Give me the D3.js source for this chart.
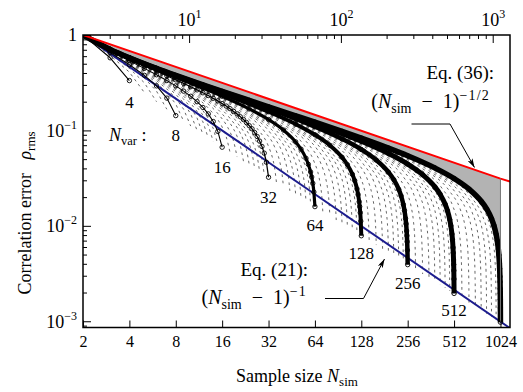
<!DOCTYPE html>
<html><head><meta charset="utf-8">
<script src="https://cdn.jsdelivr.net/npm/d3@7"></script>
<style>
body{margin:0;background:#fff}
svg{display:block}
text{font-family:"Liberation Serif","Tinos","Times New Roman","Nimbus Roman","DejaVu Serif",serif;fill:#000}
</style>
</head><body>
<svg id="c" width="523" height="392"></svg>
<script>
// ---------------- data ----------------
const bottomTicks = [2,4,8,16,32,64,128,256,512,1024];
const topMajorTicks = [10,100,1000];
const topMinorTicks = [3,4,5,6,7,8,9,20,30,40,50,60,70,80,90,200,300,400,500,600,700,800,900];
const leftMajorTicks = [1,0.1,0.01,0.001];
const leftMinorTicks = [0.9,0.8,0.7,0.6,0.5,0.4,0.3,0.2,0.09,0.08,0.07,0.06,0.05,0.04,0.03,0.02,0.009,0.008,0.007,0.006,0.005,0.004,0.003,0.002,0.0009];
const labeledNvar = [4,8,16,32,64,128,256,512];

const redLine  = [[2,1],[1024,0.03127],[1181,0.0291]];
const blueLine = [[2,1],[1181,0.000847]];

const curve4 = [[2,1],[3,0.577],[4,0.333]];
const curve8 = [[2,1],[3,0.655],[4,0.488],[5,0.378],[6,0.293],[7,0.218],[8,0.143]];
const curve16 = [[2,1],[3,0.683],[4,0.537],[5,0.447],[6,0.383],[7,0.333],[8,0.293],[9,0.258],[10,0.228],[11,0.2],[12,0.174],[13,0.149],[14,0.124],[15,0.0976],[16,0.0667]];
const curve32 = [[2,1],[3,0.696],[4,0.558],[5,0.475],[6,0.417],[7,0.374],[8,0.339],[9,0.311],[10,0.287],[11,0.266],[12,0.248],[13,0.232],[14,0.217],[15,0.204],[16,0.191],[17,0.180],[18,0.169],[19,0.158],[20,0.149],[21,0.139],[22,0.130],[23,0.121],[24,0.112],[25,0.104],[26,0.0950],[27,0.0863],[28,0.0773],[29,0.0679],[30,0.0578],[31,0.0464],[32,0.0323]];
const curve64 = [[2,1],[3,0.702],[4,0.568],[6,0.433],[8,0.360],[12,0.277],[16,0.228],[24,0.168],[32,0.130],[40,0.1009],[48,0.0758],[52,0.0636],[56,0.0510],[58,0.0441],[60,0.0367],[61,0.0325],[62,0.0279],[63,0.0226],[64,0.0159]];
const curve128 = [[2,1],[3,0.704],[4,0.573],[6,0.440],[8,0.369],[12,0.289],[16,0.2436],[24,0.1896],[32,0.157],[48,0.1165],[64,0.0901],[80,0.0699],[96,0.0523],[104,0.0437],[112,0.0347],[116,0.0298],[120,0.0244],[122,0.0213],[124,0.0179],[125,0.0159],[126,0.01375],[127,0.01118],[128,0.00787]];
const curve256 = [[2,1],[3,0.706],[4,0.575],[6,0.4437],[8,0.3735],[12,0.2955],[16,0.251],[24,0.1993],[32,0.1687],[48,0.1321],[64,0.1096],[96,0.0815],[128,0.0631],[160,0.0489],[192,0.03653],[208,0.03047],[224,0.02409],[232,0.0206],[240,0.0167],[244,0.01448],[248,0.01195],[250,0.0105],[252,0.00884],[253,0.00789],[254,0.00682],[255,0.00556],[256,0.00392]];
const curve512 = [[2,1],[3,0.7064],[4,0.5762],[6,0.4455],[8,0.3757],[12,0.2985],[16,0.2546],[24,0.204],[32,0.1743],[48,0.1391],[64,0.1181],[96,0.0927],[128,0.0770],[192,0.05735],[256,0.0444],[320,0.0344],[384,0.02567],[416,0.02139],[448,0.01687],[464,0.01439],[480,0.01161],[488,0.01002],[496,0.0082],[500,0.00714],[504,0.00592],[506,0.00521],[508,0.00439],[509,0.00393],[510,0.0034],[511,0.00277],[512,0.001957]];
const curve1024 = [[2,1],[3,0.7068],[4,0.5768],[6,0.4463],[8,0.3769],[12,0.300],[16,0.2564],[24,0.2063],[32,0.1770],[48,0.1425],[64,0.1221],[96,0.0978],[128,0.0831],[192,0.0653],[256,0.0543],[384,0.04045],[512,0.03133],[640,0.02427],[768,0.0181],[832,0.01507],[896,0.01187],[928,0.01011],[960,0.00814],[976,0.00701],[992,0.00571],[1000,0.00495],[1008,0.00406],[1012,0.00355],[1016,0.00294],[1018,0.00259],[1020,0.00219],[1021,0.00196],[1022,0.00169],[1023,0.00138],[1024,0.000978]];

// dashed curves for intermediate N_var
const dashedSmall = [
 [[2,1],[3,0.612],[4,0.408],[5,0.25]],
 [[2,1],[3,0.632],[4,0.447],[5,0.316],[6,0.2]],
 [[2,1],[3,0.645],[4,0.471],[5,0.354],[6,0.258],[7,0.1667]],
 [[2,1],[3,0.661],[4,0.5],[5,0.395],[6,0.316],[7,0.25],[8,0.189],[9,0.125]],
 [[2,1],[3,0.667],[4,0.509],[5,0.408],[6,0.333],[7,0.272],[8,0.218],[9,0.1667],[10,0.111]],
 [[2,1],[3,0.671],[4,0.516],[5,0.418],[6,0.346],[7,0.289],[8,0.239],[9,0.194],[10,0.149],[11,0.1]],
 [[2,1],[3,0.674],[4,0.522],[5,0.426],[6,0.357],[7,0.302],[8,0.255],[9,0.213],[10,0.174],[11,0.135],[12,0.0909]],
 [[2,1],[3,0.677],[4,0.527],[5,0.433],[6,0.365],[7,0.312],[8,0.267],[9,0.228],[10,0.192],[11,0.158],[12,0.123],[13,0.0833]],
 [[2,1],[3,0.679],[4,0.531],[5,0.439],[6,0.372],[7,0.320],[8,0.277],[9,0.240],[10,0.207],[11,0.175],[12,0.145],[13,0.113],[14,0.0769]],
 [[2,1],[3,0.681],[4,0.535],[5,0.443],[6,0.378],[7,0.327],[8,0.286],[9,0.25],[10,0.218],[11,0.189],[12,0.161],[13,0.134],[14,0.105],[15,0.0714]]
];
const dashed16to64 = [
 [[2,1],[3,0.686],[5,0.454],[9,0.271],[13,0.1715],[15,0.1296],[16,0.1085],[17,0.0857],[18,0.0588]],
 [[2,1],[3,0.688],[5,0.459],[10,0.2536],[15,0.150],[17,0.1147],[18,0.0964],[19,0.0765],[20,0.0526]],
 [[2,1],[3,0.690],[6,0.402],[11,0.239],[16,0.149],[19,0.1029],[20,0.0867],[21,0.069],[22,0.0476]],
 [[2,1],[3,0.692],[6,0.4065],[12,0.2267],[18,0.1338],[21,0.0933],[22,0.0788],[23,0.0629],[24,0.0435]],
 [[2,1],[3,0.693],[7,0.365],[13,0.216],[20,0.1214],[23,0.0853],[24,0.0722],[25,0.0577],[26,0.04]],
 [[2,1],[3,0.694],[7,0.3685],[14,0.2067],[21,0.1217],[25,0.0786],[26,0.0667],[27,0.0534],[28,0.037]],
 [[2,1],[3,0.695],[8,0.3366],[15,0.1985],[23,0.112],[26,0.0830],[28,0.0619],[29,0.0496],[30,0.0345]],
 [[2,1],[3,0.697],[9,0.316],[18,0.1787],[27,0.1048],[32,0.0679],[34,0.051],[35,0.041],[36,0.0286]],
 [[2,1],[3,0.698],[10,0.2972],[20,0.1683],[30,0.0986],[35,0.0673],[38,0.0456],[39,0.0367],[40,0.0256]],
 [[2,1],[3,0.699],[11,0.2812],[22,0.1596],[33,0.0934],[39,0.0606],[41,0.0482],[42,0.0413],[43,0.0333],[44,0.0233]],
 [[2,1],[3,0.6996],[12,0.2675],[24,0.1521],[36,0.0889],[42,0.0603],[45,0.044],[46,0.0377],[47,0.0304],[48,0.0213]],
 [[2,1],[3,0.700],[13,0.2557],[26,0.1455],[39,0.085],[46,0.0552],[49,0.0404],[50,0.0346],[51,0.028],[52,0.0196]],
 [[2,1],[3,0.7007],[14,0.2452],[28,0.1397],[42,0.0816],[49,0.055],[52,0.0422],[54,0.0321],[55,0.0259],[56,0.0182]],
 [[2,1],[3,0.701],[15,0.236],[30,0.1346],[45,0.0785],[52,0.0547],[56,0.0393],[58,0.0299],[59,0.0242],[60,0.01695]]
];
const dashed64to256 = [
 [[2,1],[3,0.702],[18,0.2135],[36,0.122],[54,0.0711],[63,0.0477],[68,0.0324],[70,0.0247],[71,0.0201],[72,0.01408]],
 [[2,1],[3,0.7026],[20,0.2016],[40,0.1154],[60,0.0671],[70,0.0449],[75,0.032],[77,0.0258],[78,0.0222],[79,0.018],[80,0.01266]],
 [[2,1],[3,0.703],[22,0.1915],[44,0.1097],[66,0.0638],[77,0.0426],[83,0.029],[85,0.0234],[86,0.0201],[87,0.01635],[88,0.0115]],
 [[2,1],[3,0.7034],[24,0.1828],[48,0.1048],[72,0.0609],[84,0.0406],[90,0.0288],[93,0.0214],[94,0.0184],[95,0.01497],[96,0.01053]],
 [[2,1],[3,0.7037],[26,0.1752],[52,0.1004],[78,0.0583],[91,0.0389],[98,0.0265],[101,0.0197],[102,0.017],[103,0.0138],[104,0.0097]],
 [[2,1],[3,0.704],[28,0.1684],[56,0.0966],[84,0.0561],[98,0.0373],[105,0.0263],[108,0.0205],[110,0.01575],[111,0.0128],[112,0.009]],
 [[2,1],[3,0.7041],[30,0.1624],[60,0.0932],[90,0.0541],[105,0.036],[113,0.0245],[116,0.0191],[118,0.01468],[119,0.01193],[120,0.0084]],
 [[2,1],[4,0.573],[36,0.1476],[72,0.0848],[108,0.0492],[126,0.0326],[135,0.0228],[140,0.01586],[142,0.0122],[143,0.00992],[144,0.00699]],
 [[2,1],[4,0.5737],[40,0.1397],[80,0.0803],[120,0.0466],[140,0.0308],[150,0.02155],[155,0.01565],[158,0.01096],[159,0.00892],[160,0.00629]],
 [[2,1],[4,0.574],[44,0.1329],[88,0.0765],[132,0.0443],[154,0.0293],[165,0.02045],[170,0.01538],[174,0.00995],[175,0.0081],[176,0.00571]],
 [[2,1],[4,0.5743],[48,0.1271],[96,0.0731],[144,0.04236],[168,0.028],[180,0.0195],[186,0.01407],[190,0.00912],[191,0.00742],[192,0.00524]],
 [[2,1],[4,0.5746],[52,0.122],[104,0.0702],[156,0.0406],[182,0.02685],[195,0.01867],[201,0.0139],[206,0.00841],[207,0.00685],[208,0.00483]],
 [[2,1],[4,0.5748],[56,0.1174],[112,0.0676],[168,0.0391],[196,0.0258],[210,0.01794],[217,0.01289],[222,0.0078],[223,0.00636],[224,0.00448]],
 [[2,1],[4,0.575],[60,0.1133],[120,0.0652],[180,0.03776],[210,0.0249],[225,0.01729],[232,0.01277],[238,0.00728],[239,0.00593],[240,0.00418]]
];
const dashed256to1024 = [
 [[2,1],[4,0.5753],[72,0.1032],[144,0.0594],[216,0.0344],[252,0.02266],[270,0.01569],[279,0.0112],[284,0.00785],[286,0.00606],[287,0.00494],[288,0.00348]],
 [[2,1],[4,0.5755],[80,0.0978],[160,0.0563],[240,0.0326],[280,0.02146],[300,0.01484],[310,0.01056],[316,0.00705],[318,0.00545],[319,0.00444],[320,0.00313]],
 [[2,1],[4,0.5757],[88,0.0932],[176,0.0537],[264,0.03105],[308,0.02044],[330,0.01411],[341,0.01003],[347,0.00703],[350,0.00495],[351,0.00403],[352,0.00285]],
 [[2,1],[4,0.5758],[96,0.0891],[192,0.0514],[288,0.0297],[336,0.01954],[360,0.01348],[372,0.00957],[378,0.00696],[382,0.00453],[383,0.0037],[384,0.00261]],
 [[2,1],[4,0.576],[104,0.0856],[208,0.0493],[312,0.02852],[364,0.01876],[390,0.01293],[403,0.00916],[410,0.00642],[414,0.00418],[415,0.00341],[416,0.00241]],
 [[2,1],[4,0.5761],[112,0.0824],[224,0.0475],[336,0.02747],[392,0.01806],[420,0.01244],[434,0.0088],[441,0.00638],[446,0.00388],[447,0.00317],[448,0.00224]],
 [[2,1],[4,0.5762],[120,0.0796],[240,0.0459],[360,0.02653],[420,0.01743],[450,0.012],[465,0.00848],[472,0.00632],[478,0.00362],[479,0.00296],[480,0.00209]],
 [[2,1],[4,0.5763],[144,0.0726],[288,0.04185],[432,0.02419],[504,0.01589],[540,0.01093],[558,0.0077],[567,0.00554],[572,0.0039],[574,0.00302],[575,0.00246],[576,0.00174]],
 [[2,1],[4,0.5764],[160,0.0688],[320,0.03968],[480,0.02293],[560,0.01506],[600,0.01035],[620,0.00729],[630,0.00523],[636,0.00351],[638,0.00271],[639,0.00222],[640,0.00157]],
 [[2,1],[4,0.5765],[176,0.0656],[352,0.03782],[528,0.02186],[616,0.01435],[660,0.00986],[682,0.00693],[693,0.00497],[700,0.00319],[702,0.00247],[703,0.00201],[704,0.00142]],
 [[2,1],[4,0.5766],[192,0.0628],[384,0.0362],[576,0.02092],[672,0.01373],[720,0.00943],[744,0.00662],[756,0.00474],[764,0.00292],[766,0.00226],[767,0.00184],[768,0.0013]],
 [[2,1],[4,0.5767],[208,0.0603],[416,0.03477],[624,0.02009],[728,0.01318],[780,0.00905],[806,0.00635],[819,0.00454],[828,0.0027],[830,0.00209],[831,0.0017],[832,0.0012]],
 [[2,1],[4,0.5767],[224,0.0581],[448,0.0335],[672,0.01936],[784,0.0127],[840,0.00871],[868,0.00611],[882,0.00436],[892,0.0025],[894,0.00194],[895,0.00158],[896,0.00112]],
 [[2,1],[4,0.5768],[240,0.0561],[480,0.03236],[720,0.0187],[840,0.01226],[900,0.00841],[930,0.0059],[945,0.0042],[956,0.00234],[958,0.00181],[959,0.00148],[960,0.00104]]
];

// ---------------- layout ----------------
const L = 83, R = 510, T = 35, B = 327.5;
const svg = d3.select("#c");
svg.append("rect").attr("width",523).attr("height",392).attr("fill","#fff");

const x = d3.scaleLog().base(2).domain([2,1181]).range([L,R]);
const xTop = d3.scaleLog().domain([2,1300]).range([L,R]);
const y = d3.scaleLog().domain([1,8.6e-4]).range([T,B]);

const defs = svg.append("defs");
defs.append("clipPath").attr("id","clip").append("rect")
  .attr("x",L).attr("y",T).attr("width",R-L).attr("height",B-T);
defs.append("marker").attr("id","arr").attr("viewBox","0 0 10 6")
  .attr("refX",10).attr("refY",3).attr("markerWidth",9).attr("markerHeight",5.4)
  .attr("markerUnits","userSpaceOnUse").attr("orient","auto")
  .append("path").attr("d","M0,0L10,3L0,6L2.5,3Z").attr("fill","#000");

const plot = svg.append("g").attr("clip-path","url(#clip)");

const straight = d3.line().x(d=>x(d[0])).y(d=>y(d[1]));
const smooth = d3.line().x(d=>x(d[0])).y(d=>y(d[1])).curve(d3.curveMonotoneX);

// gray region between red line and N_var=1024 curve
const grayPath = smooth(curve1024) + "L" + x(redLine[1][0]) + "," + y(redLine[1][1]) +
  "L" + x(redLine[0][0]) + "," + y(redLine[0][1]) + "Z";
plot.append("path").attr("d",grayPath).attr("fill","#b3b3b3").attr("stroke","none");

// dashed curves
const dashStyle = p => p.attr("fill","none").attr("stroke","#000")
   .attr("stroke-width",0.6).attr("stroke-dasharray","2.6,3.6");
dashedSmall.forEach(c=> plot.append("path").attr("d",straight(c)).call(dashStyle));
[...dashed16to64,...dashed64to256,...dashed256to1024].forEach(c=>
  plot.append("path").attr("d",smooth(c)).call(dashStyle));

// blue line  Eq.(21)
plot.append("path").attr("d",straight(blueLine)).attr("fill","none")
  .attr("stroke","#1c1c8e").attr("stroke-width",2);

// solid curves
const solid = [
  {d:curve4,w:1.1,sm:false},{d:curve8,w:1.1,sm:false},{d:curve16,w:1.1,sm:false},
  {d:curve32,w:1.3,sm:false},{d:curve64,w:3.2,sm:true},{d:curve128,w:4,sm:true},
  {d:curve256,w:4.5,sm:true},{d:curve512,w:5,sm:true},{d:curve1024,w:5.5,sm:true}
];
solid.forEach(s=>{
  plot.append("path").attr("d",(s.sm?smooth:straight)(s.d)).attr("fill","none")
    .attr("stroke","#000").attr("stroke-width",s.w).attr("stroke-linejoin","round");
  plot.append("g").selectAll("circle").data(s.d).join("circle")
    .attr("cx",d=>x(d[0])).attr("cy",d=>y(d[1])).attr("r",2.2)
    .attr("fill","none").attr("stroke","#000").attr("stroke-width",0.9);
});

// red line Eq.(36)
plot.append("path").attr("d",straight(redLine)).attr("fill","none")
  .attr("stroke","#ff0000").attr("stroke-width",2);

// vertical edge of gray region
plot.append("line").attr("x1",x(1024)).attr("x2",x(1024))
  .attr("y1",y(redLine[1][1])).attr("y2",y(curve1024[curve1024.length-1][1]))
  .attr("stroke","#777").attr("stroke-width",1);

// ---------------- axes ----------------
function styleAxis(g,fs){
  g.attr("font-family",null).attr("font-size",fs);
  g.select(".domain").remove();
  g.selectAll(".tick line").attr("stroke","#000").attr("stroke-width",1);
  g.selectAll(".tick text").attr("fill","#000");
}
// bottom
svg.append("g").attr("transform",`translate(0,${B})`)
  .call(d3.axisBottom(x).tickValues(bottomTicks).tickSize(-7).tickPadding(8).tickFormat(d3.format("d")))
  .call(g=>styleAxis(g,16));
// top
svg.append("g").attr("transform",`translate(0,${T})`)
  .call(d3.axisTop(xTop).tickValues(topMinorTicks).tickSize(-4).tickFormat(()=>""))
  .call(g=>styleAxis(g,18));
svg.append("g").attr("transform",`translate(0,${T})`)
  .call(d3.axisTop(xTop).tickValues(topMajorTicks).tickSize(-8).tickPadding(9).tickFormat(()=> "10"))
  .call(g=>styleAxis(g,18))
  .call(g=>g.selectAll(".tick text").each(function(d){
      d3.select(this).append("tspan").attr("dy",-8).attr("font-size",12).text(Math.round(Math.log10(d)));
  }));
// left
svg.append("g").attr("transform",`translate(${L},0)`)
  .call(d3.axisLeft(y).tickValues(leftMinorTicks).tickSize(-4).tickFormat(()=>""))
  .call(g=>styleAxis(g,18));
svg.append("g").attr("transform",`translate(${L},0)`)
  .call(d3.axisLeft(y).tickValues(leftMajorTicks).tickSize(-8).tickPadding(6).tickFormat(d=> d===1?"1":"10"))
  .call(g=>styleAxis(g,18))
  .call(g=>g.selectAll(".tick text").each(function(d){
      if(d!==1) d3.select(this).append("tspan").attr("dy",-8).attr("font-size",12).text("\u2212"+Math.round(-Math.log10(d)));
  }));

// frame
svg.append("rect").attr("x",L).attr("y",T).attr("width",R-L).attr("height",B-T)
  .attr("fill","none").attr("stroke","#000").attr("stroke-width",1.5);

// ---------------- annotations ----------------
const ann = svg.append("g");
const labelOffsets = [27.5,25.5,25.8,25.7,24.3,23.3,24.4,22.5];
const curveByN = {4:curve4,8:curve8,16:curve16,32:curve32,64:curve64,128:curve128,256:curve256,512:curve512};
labeledNvar.forEach((v,i)=>{
  const c = curveByN[v]; const e = c[c.length-1];
  ann.append("text").attr("x",x(e[0])).attr("y",y(e[1])+labelOffsets[i])
    .attr("text-anchor","middle").attr("font-size",17).text(v);
});
// N_var :
const nv = ann.append("text").attr("x",109).attr("y",141).attr("font-size",18);
nv.append("tspan").attr("font-style","italic").text("N");
nv.append("tspan").attr("font-size",12.5).attr("dy",4).text("var");
nv.append("tspan").attr("dy",-4).text(" :");

function formula(xe, yb, sup){
  const t = ann.append("text").attr("x",xe).attr("y",yb).attr("text-anchor","end").attr("font-size",20);
  t.append("tspan").text("(");
  t.append("tspan").attr("font-style","italic").text("N");
  t.append("tspan").attr("font-size",14).attr("dy",4.5).text("sim");
  t.append("tspan").attr("dy",-4.5).text("\u2002\u2212\u20021)");
  t.append("tspan").attr("font-size",14).attr("dy",-8.5).attr("letter-spacing",1.2).text(sup);
  return t;
}
// Eq. (36)
ann.append("text").attr("x",494).attr("y",79).attr("text-anchor","end").attr("font-size",19).text("Eq. (36):");
formula(490,108,"\u22121/2");
ann.append("path").attr("d","M411.5,124H450L474.5,167.5").attr("fill","none")
  .attr("stroke","#000").attr("stroke-width",1).attr("marker-end","url(#arr)");

// Eq. (21)
ann.append("text").attr("x",308).attr("y",276).attr("text-anchor","end").attr("font-size",19).text("Eq. (21):");
formula(307,304,"\u22121");
ann.append("path").attr("d","M325,298.5H363.5L384.5,259").attr("fill","none")
  .attr("stroke","#000").attr("stroke-width",1).attr("marker-end","url(#arr)");

// axis titles
const xt = ann.append("text").attr("x",297).attr("y",382).attr("text-anchor","middle").attr("font-size",18);
xt.append("tspan").text("Sample size ");
xt.append("tspan").attr("font-style","italic").text("N");
xt.append("tspan").attr("font-size",13).attr("dy",4).text("sim");

const yt = ann.append("text").attr("transform","translate(31,213) rotate(-90)")
  .attr("text-anchor","middle").attr("font-size",18);
yt.append("tspan").text("Correlation error \u2002");
yt.append("tspan").attr("font-style","italic").text("\u03c1");
yt.append("tspan").attr("font-size",13).attr("dy",4).text("rms");
</script>
</body></html>
